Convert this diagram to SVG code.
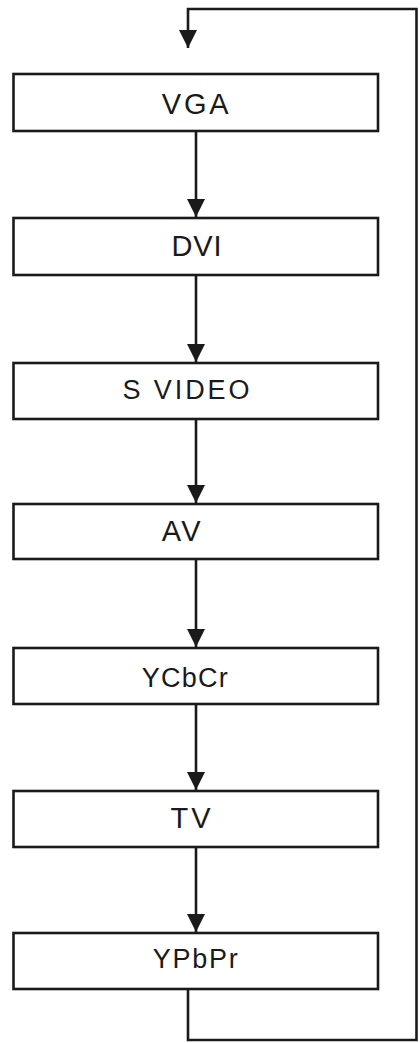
<svg xmlns="http://www.w3.org/2000/svg" width="420" height="1043" viewBox="0 0 420 1043">
<style>
.box{fill:#fff;stroke:#1a1a1a;stroke-width:2.6}
.lbl{font-family:"Liberation Sans",Arial,sans-serif;fill:#1a1a1a}
.big{font-size:29px}
.sm{font-size:27px}
.conn{fill:none;stroke:#1a1a1a;stroke-width:2.6}
</style>
<defs>
<marker id="arr" markerUnits="userSpaceOnUse" markerWidth="18" markerHeight="18" refX="18" refY="9" orient="auto" viewBox="0 0 18 18">
<path d="M0,0 L18,9 L0,18 z" fill="#1a1a1a"/>
</marker>
</defs>
<rect width="420" height="1043" fill="#fff"/>
<g id="connectors">
<path class="conn" d="M196,131 V217" marker-end="url(#arr)"/>
<path class="conn" d="M196,275 V362" marker-end="url(#arr)"/>
<path class="conn" d="M196,419 V503" marker-end="url(#arr)"/>
<path class="conn" d="M196,559 V647" marker-end="url(#arr)"/>
<path class="conn" d="M196,704 V790" marker-end="url(#arr)"/>
<path class="conn" d="M196,847 V932" marker-end="url(#arr)"/>
<path class="conn" d="M188,989 V1040 H416.5 V9 H188 V48" marker-end="url(#arr)"/>
</g>
<g id="vga">
<rect class="box" x="13.5" y="74" width="364.5" height="57"/>
<text class="lbl big" x="161.7" y="114" textLength="67" lengthAdjust="spacing">VGA</text>
</g>
<g id="dvi">
<rect class="box" x="13.5" y="218" width="364.5" height="57"/>
<text class="lbl big" x="171.5" y="256.3" textLength="50" lengthAdjust="spacing">DVI</text>
</g>
<g id="svideo">
<rect class="box" x="13.5" y="363" width="364.5" height="56"/>
<text class="lbl sm" x="122.5" y="398.7" textLength="127" lengthAdjust="spacing">S VIDEO</text>
</g>
<g id="av">
<rect class="box" x="13.5" y="504" width="364.5" height="55"/>
<text class="lbl big" x="161.7" y="541.3" textLength="39" lengthAdjust="spacing">AV</text>
</g>
<g id="ycbcr">
<rect class="box" x="13.5" y="648" width="364.5" height="56"/>
<text class="lbl sm" x="141.7" y="686.7" textLength="86" lengthAdjust="spacing">YCbCr</text>
</g>
<g id="tv">
<rect class="box" x="13.5" y="791" width="364.5" height="56"/>
<text class="lbl big" x="170.5" y="828.3" textLength="40" lengthAdjust="spacing">TV</text>
</g>
<g id="ypbpr">
<rect class="box" x="13.5" y="933" width="364.5" height="56"/>
<text class="lbl sm" x="152.7" y="968.3" textLength="85" lengthAdjust="spacing">YPbPr</text>
</g>
</svg>
